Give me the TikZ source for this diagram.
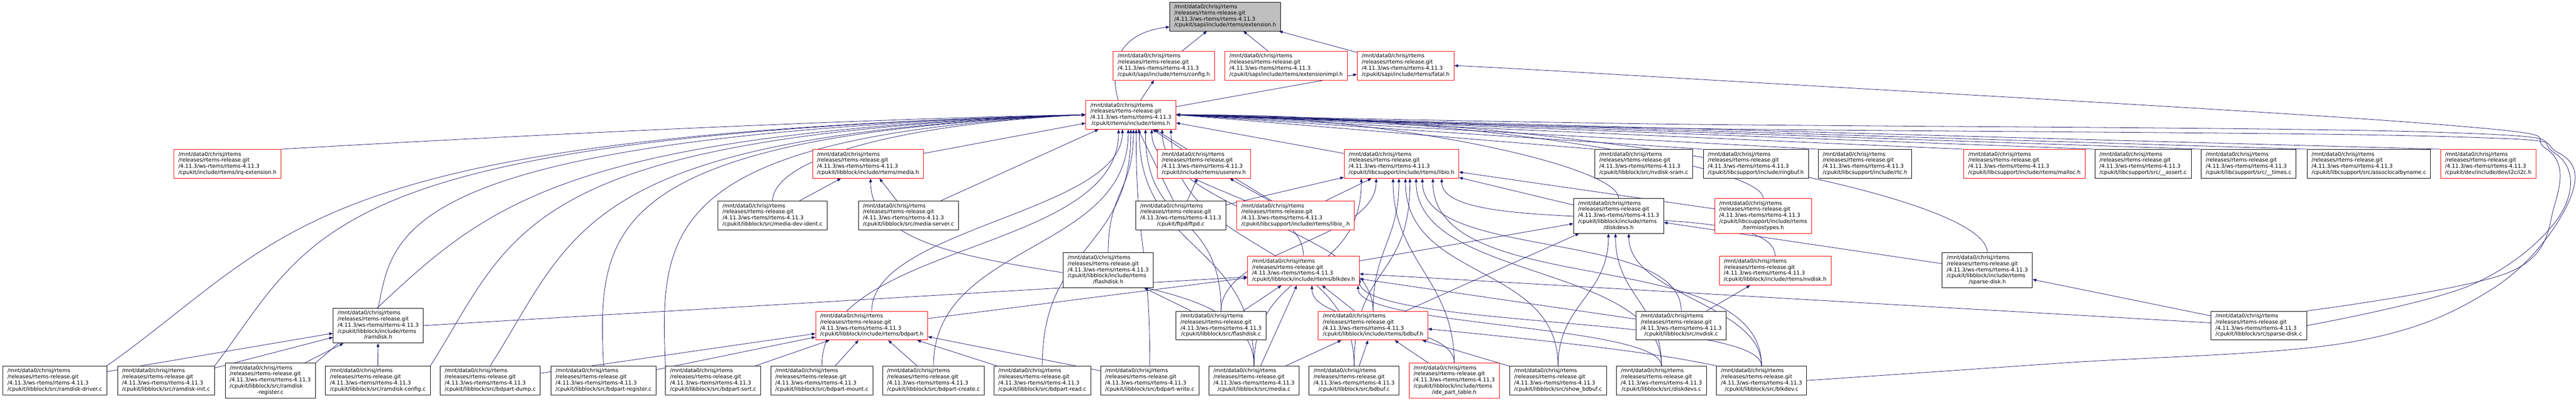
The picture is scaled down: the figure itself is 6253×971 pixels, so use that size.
\documentclass[tikz,border=0pt]{standalone}
\usepackage{fontspec}
\setmainfont{DejaVu Sans}
\usetikzlibrary{arrows.meta,backgrounds}

\definecolor{kante}{HTML}{191970}
\definecolor{grau}{HTML}{BFBFBF}

\newcommand{\pfad}[1]{%
	\begin{tabular}{@{}l@{}}/mnt/data0/chrisj/rtems\\/releases/rtems-release.git\\
	/4.11.3/ws-rtems/rtems-4.11.3\\\multicolumn{1}{@{}c@{}}{#1}\end{tabular}}
\newcommand{\pfadii}[2]{%
	\begin{tabular}{@{}l@{}}/mnt/data0/chrisj/rtems\\/releases/rtems-release.git\\
	/4.11.3/ws-rtems/rtems-4.11.3\\#1\\\multicolumn{1}{@{}c@{}}{#2}\end{tabular}}

\begin{document}
\begin{tikzpicture}[x=1pt,y=-1pt,>={Triangle[length=9pt,width=7pt]},
	datei/.style={draw=black,line width=1pt,fill=white,inner xsep=11pt,
		inner ysep=5.6pt,font=\fontsize{12.9}{14.7}\selectfont},
	rot/.style={datei,draw=red},
	wurzel/.style={datei,fill=grau},
	dep/.style={->,draw=kante,line width=1pt}]

\useasboundingbox (0,0) rectangle (6253,971);

%
% Kopf: extension.h und direkte Nutzer
%
\node[wurzel] (ext) at (2974,40) {\pfad{/cpukit/sapi/include/rtems/extension.h}};
\node[rot] (config) at (2825,159) {\pfad{/cpukit/sapi/include/rtems/config.h}};
\node[rot] (extimpl) at (3122,159) {\pfad{/cpukit/sapi/include/rtems/extensionimpl.h}};
\node[rot] (fatal) at (3412,159) {\pfad{/cpukit/sapi/include/rtems/fatal.h}};
\node[rot] (rtems) at (2745,278) {\pfad{/cpukit/rtems/include/rtems.h}};

%
% Ebene unter rtems.h
%
\node[rot] (irqext) at (552,397) {\pfad{/cpukit/include/rtems/irq-extension.h}};
\node[rot] (mediah) at (2107,397) {\pfad{/cpukit/libblock/include/rtems/media.h}};
\node[rot] (userenv) at (2922,397) {\pfad{/cpukit/include/rtems/userenv.h}};
\node[rot] (libio) at (3402,397) {\pfad{/cpukit/libcsupport/include/rtems/libio.h}};
\node[datei] (nvsram) at (3990,397) {\pfad{/cpukit/libblock/src/nvdisk-sram.c}};
\node[datei] (ringbuf) at (4262,397) {\pfad{/cpukit/libcsupport/include/ringbuf.h}};
\node[datei] (rtc) at (4527,397) {\pfad{/cpukit/libcsupport/include/rtc.h}};
\node[rot] (malloc) at (4914,397) {\pfad{/cpukit/libcsupport/include/rtems/malloc.h}};
\node[datei] (assert) at (5202,397) {\pfad{/cpukit/libcsupport/src/\_\_assert.c}};
\node[datei] (times) at (5458,397) {\pfad{/cpukit/libcsupport/src/\_\_times.c}};
\node[datei] (assoc) at (5750,397) {\pfad{/cpukit/libcsupport/src/assoclocalbyname.c}};
\node[rot] (i2c) at (6040,397) {\pfad{/cpukit/dev/include/dev/i2c/i2c.h}};

\node[datei] (mdident) at (1875,522) {\pfad{/cpukit/libblock/src/media-dev-ident.c}};
\node[datei] (mserver) at (2205,522) {\pfad{/cpukit/libblock/src/media-server.c}};
\node[datei] (ftpd) at (2866,522) {\pfad{/cpukit/ftpd/ftpd.c}};
\node[rot] (libiopriv) at (3145,522) {\pfad{/cpukit/libcsupport/include/rtems/libio\_.h}};
\node[datei] (diskdevsh) at (3929,523) {\pfadii{/cpukit/libblock/include/rtems}{/diskdevs.h}};
\node[rot] (termios) at (4280,523) {\pfadii{/cpukit/libcsupport/include/rtems}{/termiostypes.h}};

%
% libblock Header
%
\node[datei] (flashdiskh) at (2690,655) {\pfadii{/cpukit/libblock/include/rtems}{/flashdisk.h}};
\node[rot] (blkdevh) at (3164,656) {\pfad{/cpukit/libblock/include/rtems/blkdev.h}};
\node[rot] (nvdiskh) at (4309,656) {\pfad{/cpukit/libblock/include/rtems/nvdisk.h}};
\node[datei] (sparseh) at (4824,655) {\pfadii{/cpukit/libblock/include/rtems}{/sparse-disk.h}};

\node[datei] (ramdiskh) at (918,789) {\pfadii{/cpukit/libblock/include/rtems}{/ramdisk.h}};
\node[rot] (bdparth) at (2116,789) {\pfad{/cpukit/libblock/include/rtems/bdpart.h}};
\node[datei] (flashdiskc) at (2964,789) {\pfad{/cpukit/libblock/src/flashdisk.c}};
\node[rot] (bdbufh) at (3333,789) {\pfad{/cpukit/libblock/include/rtems/bdbuf.h}};
\node[datei] (nvdiskc) at (4081,789) {\pfad{/cpukit/libblock/src/nvdisk.c}};
\node[datei] (sparsec) at (5483,789) {\pfad{/cpukit/libblock/src/sparse-disk.c}};

%
% unterste Reihe
%
\foreach \n/\x/\f in {rdriver/133/ramdisk-driver.c, rinit/403/ramdisk-init.c,
	rconfig/917/ramdisk-config.c, bpdump/1190/bdpart-dump.c,
	bpregister/1465/bdpart-register.c, bpsort/1731/bdpart-sort.c,
	bpmount/1995/bdpart-mount.c, bpcreate/2266/bdpart-create.c,
	bpread/2530/bdpart-read.c, bpwrite/2791/bdpart-write.c,
	mediac/3044/media.c, bdbufc/3287/bdbuf.c, showbdbuf/3782/show\_bdbuf.c,
	diskdevsc/4033/diskdevs.c, blkdevc/4276/blkdev.c}
	\node[datei] (\n) at (\x,922) {\pfad{/cpukit/libblock/src/\f}};
\node[datei] (rregister) at (656,922) {\pfadii{/cpukit/libblock/src/ramdisk}{-register.c}};
\node[rot] (idept) at (3530,922) {\pfadii{/cpukit/libblock/include/rtems}{/ide\_part\_table.h}};

%
% Kanten (hinter den Knoten)
%
\begin{scope}[on background layer]
	\foreach \s/\t in {config/ext, extimpl/ext, fatal/ext, rtems/config, rtems/fatal,
		mediah/rtems, userenv/rtems, libio/rtems, ftpd/rtems, mserver/rtems, libiopriv/rtems,
		mdident/mediah, mserver/mediah, ftpd/userenv, libiopriv/userenv, libiopriv/libio,
		ftpd/libio, diskdevsh/libio, termios/libio, blkdevh/diskdevsh, bdbufh/diskdevsh,
		sparseh/diskdevsh, bdbufh/blkdevh, bdparth/blkdevh, flashdiskc/flashdiskh,
		flashdiskc/blkdevh, nvdiskc/nvdiskh, nvdiskc/blkdevh, sparsec/sparseh,
		sparsec/blkdevh, rdriver/ramdiskh, rinit/ramdiskh, rregister/ramdiskh,
		rconfig/ramdiskh, bpdump/bdparth, bpregister/bdparth, bpsort/bdparth,
		bpmount/bdparth, bpcreate/bdparth, bpread/bdparth, bpwrite/bdparth,
		mediac/blkdevh, mediac/bdbufh, bdbufc/bdbufh, idept/bdbufh, showbdbuf/bdbufh}
		\draw[dep] (\s) -- (\t);
	\draw[dep] (ramdiskh.east) -- ([yshift=-15pt]blkdevh.west);
	\draw[dep] (blkdevc.north west) .. controls (4000,850) and (3700,820)
		.. ([yshift=-8pt]bdbufh.east);

	% rechts von rtems.h
	\foreach \s in {nvsram,ringbuf,rtc,malloc,assert,times,assoc,i2c}
		\draw[dep] (\s.north west) -- (rtems.east);

	% links von rtems.h
	\foreach \s/\x in {rdriver.north east/720, rinit.north east/769,
		ramdiskh.north/956, rregister.north east/1153, rconfig.north east/1252,
		bpdump.north/1399, bpregister.north/1451, bpsort.north west/1602}
		\draw[dep] (\s) .. controls (\x,560) and (\x,330) .. (rtems.west);
	\draw[dep] (irqext.north east) .. controls (1400,320) and (2200,285) .. (rtems.west);
	\draw[dep] (mdident.north) .. controls (1880,380) and (2200,300) .. (rtems.west);
	\draw[dep] ([xshift=-31pt]rtems.north) .. controls (2690,150) and (2720,80)
		.. ([yshift=-25pt]ext.west);

	% nach oben geschwungen
	\foreach \s/\t/\h in {flashdiskh.north/rtems.-80/150, blkdevh.north/rtems.-35/150,
		bdparth.north/rtems.-120/200, bdbufh.north/rtems.-25/200,
		mediac.north/rtems.-60/300, bdbufc.north/rtems.-20/300,
		bpmount.north/rtems.-130/300, bpcreate.north/rtems.-100/300,
		bpread.north/rtems.-90/300, bpwrite.north/rtems.-70/300,
		flashdiskc.north/rtems.-45/250,
		idept.north/libio.-120/200, flashdiskc.north/libio.-150/150,
		nvdiskc.north/libio.-35/200, nvdiskh.north/libio.-20/150,
		mediac.north/libio.-160/250, bdbufc.north/libio.-60/250,
		diskdevsc.north/libio.-45/250, blkdevc.north/libio.-25/300,
		showbdbuf.north/libio.-75/250, bdbufh.north/libio.-100/150,
		idept.north/blkdevh.-60/100, diskdevsc.north/blkdevh.-15/100,
		blkdevc.north/blkdevh.-8/120, diskdevsc.north/diskdevsh.-100/150,
		showbdbuf.north/diskdevsh.-120/150, blkdevc.north/diskdevsh.-60/150,
		mediac.north/mediah.-80/300}
		\draw[dep] (\s) .. controls +(0,-\h) and +(0,\h) .. (\t);

	\foreach \s/\h/\w in {diskdevsh.north/80/500, termios.north/80/700,
		sparseh.north/150/900}
		\draw[dep] (\s) .. controls +(0,-\h) and +(\w,0) .. (rtems.east);

	% rechter Rand
	\draw[dep] plot[smooth,tension=0.6] coordinates {(sparsec.north east)
		(6090,660) (6200,500) (6180,360) (5900,300) (4000,185) (fatal.east)};
	\draw[dep] plot[smooth,tension=0.6] coordinates {(sparsec.east)
		(6000,690) (6215,520) (6200,370) (5900,320) (4000,300) (rtems.east)};
	\draw[dep] plot[smooth,tension=0.6] coordinates {(blkdevc.east)
		(5000,880) (5700,830) (6050,700) (6230,500) (6210,370) (5900,330)
		(4000,310) (rtems.east)};
\end{scope}

\end{tikzpicture}
\end{document}
